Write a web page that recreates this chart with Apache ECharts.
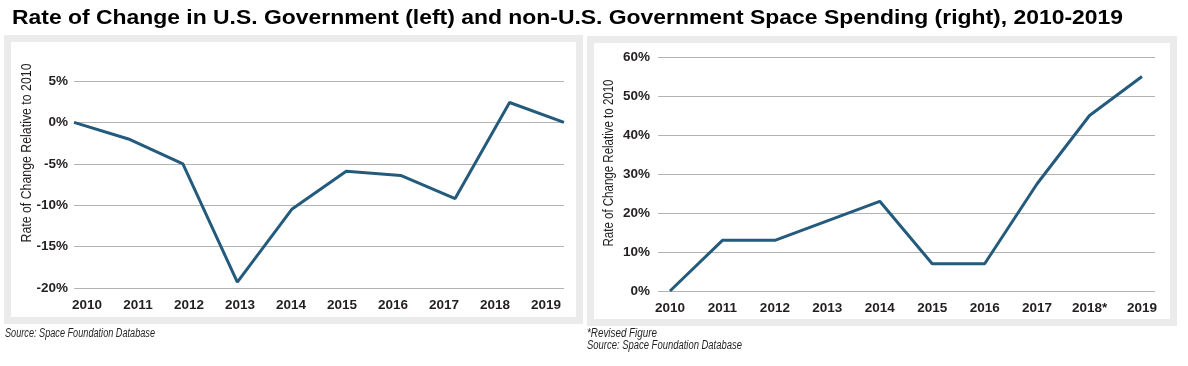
<!DOCTYPE html>
<html>
<head>
<meta charset="utf-8">
<script src="https://cdn.jsdelivr.net/npm/echarts@6/dist/echarts.min.js"></script>
<style>
html,body{margin:0;padding:0;background:#fff;}
#chart{width:1188px;height:366px;}
</style>
</head>
<body>
<div id="chart"></div>
<script>
const years = ['2010','2011','2012','2013','2014','2015','2016','2017','2018','2019'];
const yearsRight = ['2010','2011','2012','2013','2014','2015','2016','2017','2018*','2019'];
const usGovChange = [0, -2, -5, -19.3, -10.5, -5.9, -6.4, -9.2, 2.4, 0];
const nonUsGovChange = [0, 13, 13, 18, 23, 7, 7, 27.5, 45, 55];
const leftTicks = { min: -20, max: 5, interval: 5 };
const rightTicks = { min: 0, max: 60, interval: 10 };
const titleText = 'Rate of Change in U.S. Government (left) and non-U.S. Government Space Spending (right), 2010-2019';
const axisNameText = 'Rate of Change Relative to 2010';
const sourceText = 'Source: Space Foundation Database';
const revisedText = '*Revised Figure';

const SANS = '"Liberation Sans", Arial, sans-serif';
const LINE = '#245b7d';
const GRIDC = '#b3b3b3';
const LABC = '#231f20';

const mctx = document.createElement('canvas').getContext('2d');
function fit(text, font, target) {
  mctx.font = font;
  return target / mctx.measureText(text).width;
}

function fittedText(text, x, y, size, weight, style, target, extra) {
  const font = (style === 'italic' ? 'italic ' : '') + (weight === 'bold' ? 'bold ' : '') + size + 'px "Liberation Sans"';
  const s = fit(text, font, target);
  return Object.assign({
    type: 'text', x: x, y: y, scaleX: s, scaleY: 1,
    style: {text: text, fontFamily: SANS, fontSize: size, fontWeight: weight || 'normal', fontStyle: style || 'normal',
      fill: LABC, align: 'left', verticalAlign: 'middle'}
  }, extra || {});
}

const chart = echarts.init(document.getElementById('chart'), null, {renderer:'canvas'});

const tickLabel = {color: LABC, fontFamily: SANS, fontSize: 13.5, fontWeight: 'bold'};

const nameL = fittedText(axisNameText, 27, 153, 15, 'normal', 'normal', 179, {rotation: Math.PI/2});
nameL.style.align = 'center';
const nameR = fittedText(axisNameText, 609, 163, 14, 'normal', 'normal', 167, {rotation: Math.PI/2});
nameR.style.align = 'center';
const titleEl = fittedText(titleText, 12, 18, 20, 'bold', 'normal', 1111);
titleEl.style.fill = '#000';

const option = {
  animation: false,
  backgroundColor: '#fff',
  graphic: [
    {type:'rect', z:-10, shape:{x:7.5, y:38.5, width:572, height:282}, style:{fill:'#fff', stroke:'#ebebeb', lineWidth:7}},
    {type:'rect', z:-10, shape:{x:590.5, y:39.5, width:583, height:283}, style:{fill:'#fff', stroke:'#ebebeb', lineWidth:7}},
    titleEl,
    nameL,
    nameR,
    fittedText(sourceText, 5, 334, 12, 'normal', 'italic', 150),
    fittedText(revisedText, 587, 334, 12, 'normal', 'italic', 70),
    fittedText(sourceText, 587, 346, 12, 'normal', 'italic', 155)
  ],
  grid: [
    {left:74, right:1188-564, top:81, bottom:366-288},
    {left:61.5, right:1188-571.5, top:81, bottom:366-288},
    {left:658, right:1188-1155, top:57, bottom:366-291},
    {left:670, right:1188-1142, top:57, bottom:366-291}
  ],
  xAxis: [
    {gridIndex:0, type:'category', data:years, boundaryGap:false, axisLine:{show:false}, axisTick:{show:false}, axisLabel:{show:false}},
    {gridIndex:1, type:'category', data:years, boundaryGap:true, axisLine:{show:false}, axisTick:{show:false}, axisLabel:Object.assign({margin:10, interval:0}, tickLabel)},
    {gridIndex:2, type:'category', data:yearsRight, boundaryGap:false, show:false},
    {gridIndex:3, type:'category', data:yearsRight, boundaryGap:false, axisLine:{show:false}, axisTick:{show:false}, axisLabel:Object.assign({margin:10, interval:0}, tickLabel)}
  ],
  yAxis: [
    {gridIndex:0, type:'value', min:leftTicks.min, max:leftTicks.max, interval:leftTicks.interval,
      axisLine:{show:false}, axisTick:{show:false},
      axisLabel:Object.assign({margin:6, formatter:'{value}%'}, tickLabel),
      splitLine:{lineStyle:{color:GRIDC, width:1}}},
    {gridIndex:1, type:'value', min:leftTicks.min, max:leftTicks.max, show:false, splitLine:{show:false}},
    {gridIndex:2, type:'value', min:rightTicks.min, max:rightTicks.max, interval:rightTicks.interval,
      axisLine:{show:false}, axisTick:{show:false},
      axisLabel:Object.assign({margin:8, formatter:'{value}%'}, tickLabel),
      splitLine:{lineStyle:{color:GRIDC, width:1}}},
    {gridIndex:3, type:'value', min:rightTicks.min, max:rightTicks.max, show:false, splitLine:{show:false}}
  ],
  series: [
    {type:'line', xAxisIndex:0, yAxisIndex:0, data:usGovChange, symbol:'none', lineStyle:{color:LINE, width:3}, z:5},
    {type:'line', xAxisIndex:3, yAxisIndex:3, data:nonUsGovChange, symbol:'none', lineStyle:{color:LINE, width:3}, z:5}
  ]
};
chart.setOption(option);
</script>
</body>
</html>
